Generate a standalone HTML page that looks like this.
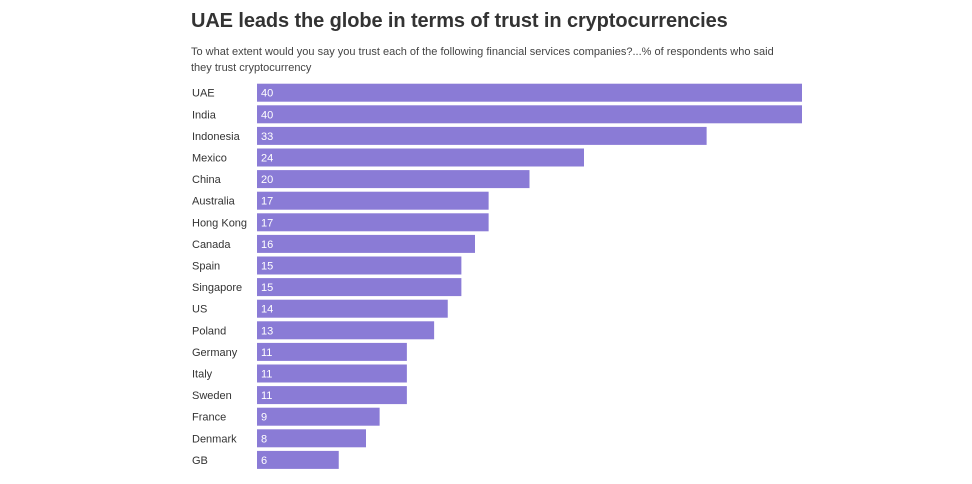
<!DOCTYPE html>
<html><head><meta charset="utf-8"><style>
body{margin:0;width:972px;height:484px;background:#fff;font-family:"Liberation Sans",sans-serif;overflow:hidden;position:relative}
#title{position:absolute;left:191px;top:10px;font-size:20px;font-weight:bold;color:#333;letter-spacing:-0.1px;white-space:nowrap}
#sub{position:absolute;left:191px;top:44px;font-size:11px;line-height:16px;color:#444;white-space:nowrap}
svg{position:absolute;left:0;top:0}
</style></head><body>
<div id="title">UAE leads the globe in terms of trust in cryptocurrencies</div>
<div id="sub">To what extent would you say you trust each of the following financial services companies?...% of respondents who said<br>they trust cryptocurrency</div>
<svg id="chart" width="972" height="484"></svg>
<script>
const categories=["UAE","India","Indonesia","Mexico","China","Australia","Hong Kong","Canada","Spain","Singapore","US","Poland","Germany","Italy","Sweden","France","Denmark","GB"];
const values=[40,40,33,24,20,17,17,16,15,15,14,13,11,11,11,9,8,6];
const svg=document.getElementById('chart');
const NS='http://www.w3.org/2000/svg';
const x0=257, xMax=40, xW=545;
function xs(v){return v/xMax*xW;}
function ys(i){return 83.7+i*21.6;}
categories.forEach((c,i)=>{
  const y=ys(i);
  const lab=document.createElementNS(NS,'text');
  
  
  lab.setAttribute('x',192);lab.setAttribute('y',y+13);
  lab.setAttribute('font-size','11');lab.setAttribute('fill','#333');
  lab.setAttribute('font-family','Liberation Sans, sans-serif');
  lab.textContent=c;svg.appendChild(lab);
  const r=document.createElementNS(NS,'rect');
  
  
  r.setAttribute('x',x0);r.setAttribute('y',y);
  r.setAttribute('width',xs(values[i]));r.setAttribute('height',18);
  r.setAttribute('fill','#8a7bd6');svg.appendChild(r);
  const t=document.createElementNS(NS,'text');
  
  
  t.setAttribute('x',x0+4);t.setAttribute('y',y+13);
  t.setAttribute('font-size','11');t.setAttribute('fill','#fff');
  t.setAttribute('font-family','Liberation Sans, sans-serif');
  t.textContent=values[i];svg.appendChild(t);
});
</script>
</body></html>
